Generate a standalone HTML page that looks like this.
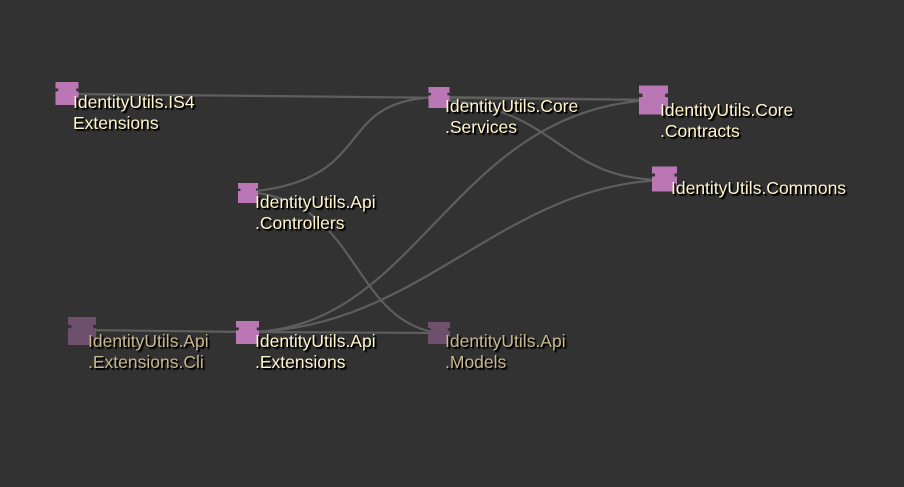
<!DOCTYPE html>
<html><head><style>
html,body{margin:0;padding:0;background:#323232;}
#c{position:relative;width:904px;height:487px;overflow:hidden;background:#323232;font-family:"Liberation Sans",sans-serif;}
.t{position:absolute;font-size:17.5px;line-height:21px;color:#fff6cc;text-shadow:1px 1px 0 #000,2px 2px 1px #000;white-space:nowrap;}
.d{color:#c9b88e;}
svg{position:absolute;left:0;top:0;}
</style></head><body><div id="c">
<svg width="904" height="487">
<g fill="none" stroke="#5e5e5e" stroke-width="2.2">
<path d="M70,94 C300,97 500,99 652,100"/>
<path d="M248,192 C380,180 330,100 438,97"/>
<path d="M438,97 L652,100"/>
<path d="M445,100 C560,110 560,180 664,180"/>
<path d="M248,332 C420,330 450,110 652,100"/>
<path d="M248,332 C420,330 500,185 664,180"/>
<path d="M82,330 L248,332 L438,333"/>
<path d="M248,192 C360,200 350,320 438,333"/>
</g>
<defs>
<symbol id="ic" viewBox="0 0 100 100"><path d="M0,0 H100 V28 H90 V40 H100 V100 H0 V40 H12 V28 H0 Z"/></symbol>
</defs>
<g fill="#bb77b5">
<use href="#ic" x="55" y="82" width="24" height="23"/>
<use href="#ic" x="428" y="87" width="22" height="21"/>
<use href="#ic" x="639" y="85" width="29" height="30"/>
<use href="#ic" x="652" y="166" width="25" height="26"/>
<use href="#ic" x="238" y="183" width="20" height="20"/>
<use href="#ic" x="236" y="321" width="23" height="23"/>
</g>
<g fill="#6e4f6c">
<use href="#ic" x="67" y="317" width="30" height="28"/>
<use href="#ic" x="428" y="322" width="22" height="22"/>
</g>
</svg>
<div class="t" style="left:73px;top:92px">IdentityUtils.IS4<br>Extensions</div>
<div class="t" style="left:445px;top:96px">IdentityUtils.Core<br>.Services</div>
<div class="t" style="left:660px;top:100px">IdentityUtils.Core<br>.Contracts</div>
<div class="t" style="left:671px;top:178px">IdentityUtils.Commons</div>
<div class="t" style="left:255px;top:192px">IdentityUtils.Api<br>.Controllers</div>
<div class="t d" style="left:88px;top:331px">IdentityUtils.Api<br>.Extensions.Cli</div>
<div class="t" style="left:255px;top:331px">IdentityUtils.Api<br>.Extensions</div>
<div class="t d" style="left:445px;top:331px">IdentityUtils.Api<br>.Models</div>
</div></body></html>
